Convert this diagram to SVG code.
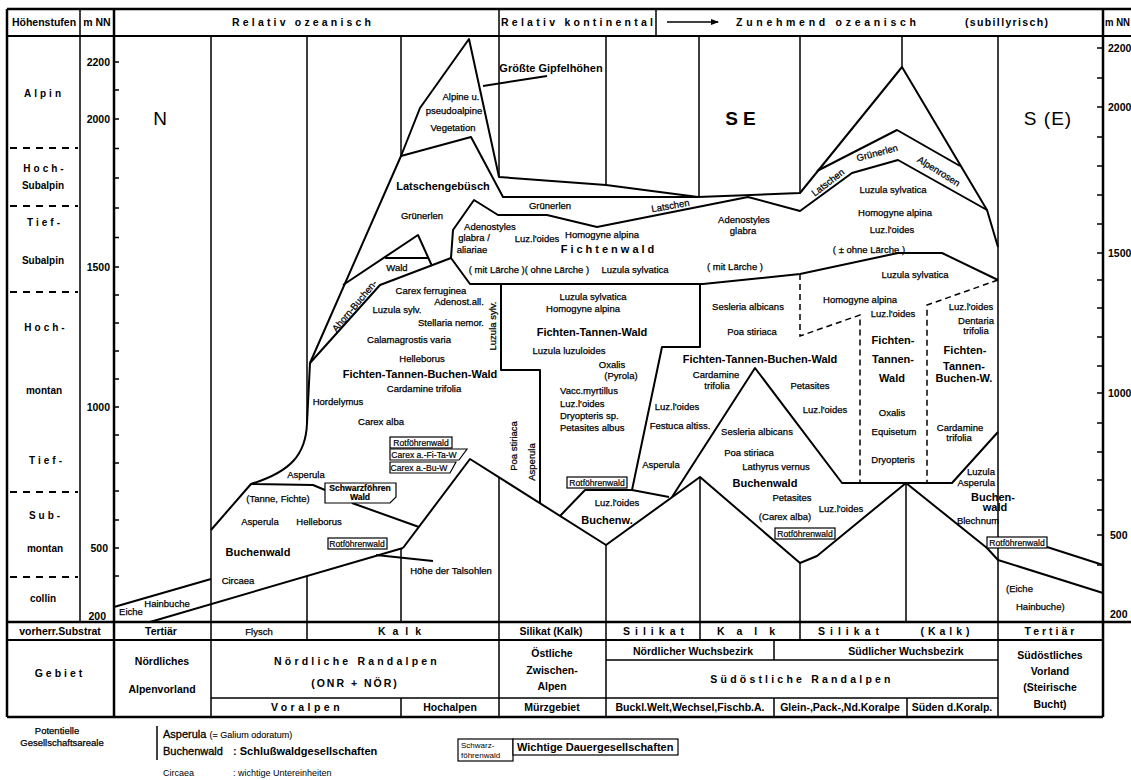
<svg xmlns="http://www.w3.org/2000/svg" width="1131" height="780" viewBox="0 0 1131 780">
<style>
text{font-family:"Liberation Sans",Arial,sans-serif;fill:#000}
.s{font-size:9.5px;text-anchor:middle;stroke:#000;stroke-width:0.25}
.sl{font-size:9.5px;stroke:#000;stroke-width:0.25}
.sb{font-size:11px;font-weight:bold;text-anchor:middle}
.bx{font-size:8.6px;text-anchor:middle;stroke:#000;stroke-width:0.2}
.hd{font-size:10.5px;font-weight:bold}
.ax{font-size:10.5px;font-weight:bold}
.lc{font-size:10px;font-weight:bold;text-anchor:middle}
.tb{font-size:10.5px;font-weight:bold;text-anchor:middle}
.big{font-size:19px;text-anchor:middle}
.ln{fill:none;stroke:#000;stroke-width:2;stroke-linejoin:round}
.th{fill:none;stroke:#000;stroke-width:1.5}
.fr{fill:none;stroke:#000;stroke-width:2.5}
.ds{fill:none;stroke:#000;stroke-width:1.5;stroke-dasharray:6 4}
.dl{fill:none;stroke:#000;stroke-width:2;stroke-dasharray:7 6}
.box{fill:#fff;stroke:#000;stroke-width:1.2}
.tk{stroke:#000;stroke-width:1.5}
</style>
<defs>
<marker id="ah" markerWidth="8" markerHeight="6" refX="7" refY="3" orient="auto" markerUnits="userSpaceOnUse">
<path d="M0,0 L8,3 L0,6 Z" fill="#000"/>
</marker>
</defs>
<rect width="1131" height="780" fill="#fff"/>

<g id="frame">
<path class="fr" d="M7,9 H1131 M7,9 V717 M114,9 V717 M1103,9 V717 M7,622 H1131 M7,717 H1103"/>
<path class="ln" d="M7,36 H1131 M7,640 H1103"/>
<path class="th" d="M80,9 V622 M499,9 V36 M656,9 V36"/>
</g>

<g id="header">
<text class="hd" x="44" y="26" text-anchor="middle" font-size="11">Höhenstufen</text>
<text class="hd" x="97" y="26" text-anchor="middle">m NN</text>
<text class="hd" x="232" y="26" textLength="139" lengthAdjust="spacing">Relativ ozeanisch</text>
<text class="hd" x="501" y="26" textLength="152" lengthAdjust="spacing">Relativ kontinental</text>
<path class="th" d="M667,22 H718" marker-end="url(#ah)"/>
<text class="hd" x="736" y="26" textLength="180" lengthAdjust="spacing">Zunehmend ozeanisch</text>
<text class="hd" x="965" y="26" textLength="83" lengthAdjust="spacing">(subillyrisch)</text>
<text class="hd" x="1105" y="26" font-size="10px" textLength="25" lengthAdjust="spacingAndGlyphs">m NN</text>
</g>

<g id="stufen">
<path class="dl" d="M10,148 H78 M10,206 H78 M10,292 H78 M10,492 H78 M10,577 H78"/>
<text class="lc" x="44" y="97" letter-spacing="3">Alpin</text>
<text class="lc" x="45" y="172" letter-spacing="3">Hoch-</text>
<text class="lc" x="43" y="189">Subalpin</text>
<text class="lc" x="45" y="226" letter-spacing="3">Tief-</text>
<text class="lc" x="43" y="264">Subalpin</text>
<text class="lc" x="46" y="331" letter-spacing="3">Hoch-</text>
<text class="lc" x="44" y="394">montan</text>
<text class="lc" x="47" y="464" letter-spacing="3">Tief-</text>
<text class="lc" x="46" y="519" letter-spacing="3">Sub-</text>
<text class="lc" x="45" y="552">montan</text>
<text class="lc" x="43" y="602">collin</text>
</g>

<g id="axis-left">
<path class="tk" d="M114,62 h5 M114,90 h5 M114,119 h5 M114,148.5 h5 M114,178 h5 M114,208 h5 M114,237.5 h5 M114,267 h5 M114,295 h5 M114,323 h5 M114,351 h5 M114,379 h5 M114,407 h5 M114,435 h5 M114,463 h5 M114,491 h5 M114,520 h5 M114,548 h5 M114,576 h5"/>
<text class="ax" x="110" y="66" text-anchor="end">2200</text>
<text class="ax" x="110" y="123" text-anchor="end">2000</text>
<text class="ax" x="110" y="271" text-anchor="end">1500</text>
<text class="ax" x="110" y="411" text-anchor="end">1000</text>
<text class="ax" x="108" y="552" text-anchor="end">500</text>
<text class="ax" x="106" y="620" text-anchor="end">200</text>
</g>

<g id="axis-right">
<path class="tk" d="M1097,48 h6 M1097,78 h6 M1097,107 h6 M1097,137 h6 M1097,166 h6 M1097,195 h6 M1097,224 h6 M1097,253 h6 M1097,280 h6 M1097,308 h6 M1097,337 h6 M1097,366 h6 M1097,393 h6 M1097,423 h6 M1097,452 h6 M1097,480 h6 M1097,510 h6 M1097,535 h6 M1097,565 h6"/>
<text class="ax" x="1108" y="52">2200</text>
<text class="ax" x="1108" y="111">2000</text>
<text class="ax" x="1108" y="257">1500</text>
<text class="ax" x="1108" y="397">1000</text>
<text class="ax" x="1110" y="539">500</text>
<text class="ax" x="1110" y="618">200</text>
</g>

<g id="connectors">
<path class="th" d="M211,36 V717 M307,36 V423 M401,36 V156 M499,36 V177 M606,36 V185 M699,36 V197 M800,36 V193 M902,36 V67 M998,36 V717"/>
<path class="th" d="M307,576 V640 M401,548 V622 M499,478 V717 M606,545 V717 M700,477 V640 M800,563 V640 M906,483 V622"/>
<path class="ln" d="M310,363 L401,156 L420,108 L469,39 L499,177 L606,185 L698,197 L800,193 L902,67 L987,210 L998,247"/>
<path class="ln" d="M401,156 L471,137 L503,197 L698,197"/>
<path class="ln" d="M310,363 L380,285 L451,258 L453,230 L474,200 L498,215 L547,215 L597,227 L748,197 L800,211 L852,173 L898,160 L987,210"/>
<path class="ln" d="M451,258 L470,284 L703,284 L800,274 L898,253 L942,253 L998,280"/>
<path class="ln" d="M817,171 L897,130 L960,166"/>
<path class="ln" d="M343,285 L418,235 L432,266 M385,258 H428"/>
<path class="ln" d="M483,86 L547,76"/>
<path class="ln" d="M310,363 L307,423 C306,455 290,472 251,484 L211,530 M251,484 L313,485 L325,490"/>
<path class="ln" d="M352,503 L419,527"/>
<path class="ln" d="M114,607 L211,579 M150,622 L403,548 M376,555 L433,561"/>
<path class="ln" d="M403,548 L470,459 L606,545 L700,477 L800,563 L817,556 L906,483 L987,548 L998,560 L1103,593 M1047,547 L1103,565"/>
<path class="ln" d="M501,285 V370 H540 V503"/>
<path class="ln" d="M700,284 V347 H662 L632,490"/>
<path class="ln" d="M560,516 L585,490 L632,490 L669,497"/>
<path class="ln" d="M672,497 L755,368 L842,483 L952,483 L998,432"/>
<path class="ds" d="M800,274 V336 L860,315 V483 M998,280 L927,305 V483"/>
</g>

<g id="boxes">
<polygon class="box" points="325,483 396,483 396,497 390,503 325,503"/>
<text class="bx" x="360" y="491" font-weight="bold">Schwarzföhren</text>
<text class="bx" x="360" y="500" font-weight="bold">Wald</text>
<rect class="box" x="390" y="437" width="62" height="11"/>
<text class="bx" x="421" y="446">Rotföhrenwald</text>
<polygon class="box" points="390,449 467,449 459,460 390,460"/>
<text class="bx" x="424" y="458">Carex a.-Fi-Ta-W</text>
<polygon class="box" points="390,462 456,462 450,473 390,473"/>
<text class="bx" x="419" y="471">Carex a.-Bu-W</text>
<rect class="box" x="328" y="538" width="59" height="11"/>
<text class="bx" x="357" y="547">Rotföhrenwald</text>
<rect class="box" x="567" y="477" width="60" height="11"/>
<text class="bx" x="597" y="486">Rotföhrenwald</text>
<rect class="box" x="775" y="528" width="60" height="11"/>
<text class="bx" x="805" y="537">Rotföhrenwald</text>
<rect class="box" x="987" y="537" width="60" height="11"/>
<text class="bx" x="1017" y="546">Rotföhrenwald</text>
</g>

<g id="regions">
<text class="big" x="160" y="125">N</text>
<text class="big" x="743" y="125" font-weight="bold" letter-spacing="5">SE</text>
<text class="big" x="1048" y="125" letter-spacing="1">S (E)</text>
</g>

<g id="alpine">
<text class="s" x="461" y="100">Alpine u.</text>
<text class="s" x="454" y="114">pseudoalpine</text>
<text class="s" x="453" y="131">Vegetation</text>
<text class="sb" x="551" y="72">Größte Gipfelhöhen</text>
<text class="sb" x="443" y="190">Latschengebüsch</text>
<text class="s" x="422" y="219">Grünerlen</text>
<text class="s" x="550" y="209">Grünerlen</text>
<text class="s" x="671" y="209" transform="rotate(-10 671 209)">Latschen</text>
<text class="s" x="830" y="185" transform="rotate(-38 830 185)">Latschen</text>
<text class="s" x="878" y="156" transform="rotate(-15 878 156)">Grünerlen</text>
<text class="s" x="937" y="174" transform="rotate(32 937 174)">Alpenrosen</text>
</g>

<g id="fichtenwald">
<text class="s" x="490" y="230">Adenostyles</text>
<text class="s" x="474" y="241">glabra /</text>
<text class="s" x="472" y="253">aliariae</text>
<text class="s" x="537" y="242">Luz.l'oides</text>
<text class="s" x="602" y="238">Homogyne alpina</text>
<text class="sb" x="609" y="253" letter-spacing="3">Fichtenwald</text>
<text class="s" x="529" y="273">( mit Lärche )( ohne Lärche )</text>
<text class="s" x="635" y="273">Luzula sylvatica</text>
<text class="s" x="744" y="223">Adenostyles</text>
<text class="s" x="743" y="234">glabra</text>
<text class="s" x="735" y="270">( mit Lärche )</text>
<text class="s" x="893" y="193">Luzula sylvatica</text>
<text class="s" x="895" y="216">Homogyne alpina</text>
<text class="s" x="892" y="233">Luz.l'oides</text>
<text class="s" x="869" y="253">( ± ohne Lärche )</text>
</g>

<g id="ftbw-left">
<text class="s" x="357" y="308" transform="rotate(-50 357 308)">Ahorn-Buchen-</text>
<text class="s" x="397" y="271">Wald</text>
<text class="s" x="431" y="294">Carex ferruginea</text>
<text class="s" x="459" y="305">Adenost.all.</text>
<text class="s" x="397" y="313">Luzula sylv.</text>
<text class="s" x="451" y="326">Stellaria nemor.</text>
<text class="s" x="409" y="343">Calamagrostis varia</text>
<text class="s" x="422" y="362">Helleborus</text>
<text class="sb" x="420" y="378">Fichten-Tannen-Buchen-Wald</text>
<text class="s" x="424" y="392">Cardamine trifolia</text>
<text class="s" x="338" y="405">Hordelymus</text>
<text class="s" x="381" y="425">Carex alba</text>
<text class="s" x="496" y="326" transform="rotate(-90 496 326)">Luzula sylv.</text>
</g>

<g id="ftw-middle">
<text class="s" x="593" y="300">Luzula sylvatica</text>
<text class="s" x="583" y="312">Homogyne alpina</text>
<text class="sb" x="592" y="336">Fichten-Tannen-Wald</text>
<text class="s" x="569" y="354">Luzula luzuloides</text>
<text class="s" x="612" y="368">Oxalis</text>
<text class="s" x="621" y="379">(Pyrola)</text>
<text class="sl" x="560" y="394">Vacc.myrtillus</text>
<text class="sl" x="560" y="407">Luz.l'oides</text>
<text class="sl" x="560" y="419">Dryopteris sp.</text>
<text class="sl" x="560" y="431">Petasites albus</text>
<text class="s" x="517" y="446" transform="rotate(-90 517 446)">Poa stiriaca</text>
<text class="s" x="535" y="462" transform="rotate(-90 535 462)">Asperula</text>
<text class="s" x="617" y="506">Luz.l'oides</text>
<text class="sb" x="607" y="524">Buchenw.</text>
</g>

<g id="se-middle">
<text class="s" x="748" y="310">Sesleria albicans</text>
<text class="s" x="752" y="335">Poa stiriaca</text>
<text class="sb" x="760" y="363">Fichten-Tannen-Buchen-Wald</text>
<text class="s" x="716" y="378">Cardamine</text>
<text class="s" x="717" y="389">trifolia</text>
<text class="s" x="677" y="410">Luz.l'oides</text>
<text class="s" x="680" y="429">Festuca altiss.</text>
<text class="s" x="661" y="468">Asperula</text>
<text class="s" x="810" y="389">Petasites</text>
<text class="s" x="825" y="413">Luz.l'oides</text>
<text class="s" x="757" y="435">Sesleria albicans</text>
<text class="s" x="749" y="456">Poa stiriaca</text>
<text class="s" x="776" y="470">Lathyrus vernus</text>
<text class="sb" x="765" y="487">Buchenwald</text>
<text class="s" x="792" y="501">Petasites</text>
<text class="s" x="785" y="520">(Carex alba)</text>
<text class="s" x="841" y="512">Luz.l'oides</text>
<text class="s" x="860" y="303">Homogyne alpina</text>
<text class="s" x="915" y="278">Luzula sylvatica</text>
</g>

<g id="se-right">
<text class="s" x="893" y="317">Luz.l'oides</text>
<text class="sb" x="893" y="344">Fichten-</text>
<text class="sb" x="893" y="363">Tannen-</text>
<text class="sb" x="892" y="382">Wald</text>
<text class="s" x="892" y="416">Oxalis</text>
<text class="s" x="894" y="435">Equisetum</text>
<text class="s" x="893" y="463">Dryopteris</text>
<text class="s" x="971" y="310">Luz.l'oides</text>
<text class="s" x="976" y="324">Dentaria</text>
<text class="s" x="976" y="334">trifolia</text>
<text class="sb" x="965" y="354">Fichten-</text>
<text class="sb" x="964" y="370">Tannen-</text>
<text class="sb" x="964" y="382">Buchen-W.</text>
<text class="s" x="960" y="431">Cardamine</text>
<text class="s" x="959" y="441">trifolia</text>
<text class="sl" x="995" y="475" text-anchor="end">Luzula</text>
<text class="sl" x="995" y="486" text-anchor="end">Asperula</text>
<text class="sb" x="993" y="501" text-anchor="end">Buchen-</text>
<text class="sb" x="995" y="511" text-anchor="end">wald</text>
<text class="s" x="978" y="524" font-size="8px">Blechnum</text>
<text class="sl" x="1006" y="592">(Eiche</text>
<text class="sl" x="1016" y="610">Hainbuche)</text>
</g>

<g id="lower-left">
<text class="s" x="306" y="478">Asperula</text>
<text class="s" x="278" y="502">(Tanne, Fichte)</text>
<text class="s" x="260" y="525">Asperula</text>
<text class="s" x="319" y="525">Helleborus</text>
<text class="sb" x="258" y="556">Buchenwald</text>
<text class="s" x="238" y="584">Circaea</text>
<text class="s" x="167" y="607">Hainbuche</text>
<text class="s" x="131" y="615">Eiche</text>
<text class="s" x="451" y="574">Höhe der Talsohlen</text>
</g>

<g id="table">
<path class="th" d="M606,660 H998 M211,698 H998 M401,698 V717 M774,640 V660 M774,698 V717 M907,698 V717"/>
<text class="tb" x="60" y="635">vorherr.Substrat</text>
<text class="tb" x="161" y="635">Tertiär</text>
<text class="s" x="259" y="635">Flysch</text>
<text class="tb" x="403" y="635" letter-spacing="7">Kalk</text>
<text class="tb" x="551" y="635">Silikat (Kalk)</text>
<text class="tb" x="656" y="635" letter-spacing="5">Silikat</text>
<text class="tb" x="752" y="635" letter-spacing="12">Kalk</text>
<text class="tb" x="851" y="635" letter-spacing="5">Silikat</text>
<text class="tb" x="947" y="635" letter-spacing="4">(Kalk)</text>
<text class="tb" x="1051" y="635" letter-spacing="3">Tertiär</text>
<text class="tb" x="60" y="677" letter-spacing="3">Gebiet</text>
<text class="tb" x="162" y="665">Nördliches</text>
<text class="tb" x="162" y="693">Alpenvorland</text>
<text class="tb" x="357" y="665" letter-spacing="3.2">Nördliche Randalpen</text>
<text class="tb" x="355" y="687" letter-spacing="2">(ONR + NÖR)</text>
<text class="tb" x="307" y="711" letter-spacing="3.5">Voralpen</text>
<text class="tb" x="450" y="711">Hochalpen</text>
<text class="tb" x="552" y="657">Östliche</text>
<text class="tb" x="552" y="674">Zwischen-</text>
<text class="tb" x="552" y="690">Alpen</text>
<text class="tb" x="552" y="711">Mürzgebiet</text>
<text class="tb" x="693" y="655">Nördlicher  Wuchsbezirk</text>
<text class="tb" x="906" y="655">Südlicher  Wuchsbezirk</text>
<text class="tb" x="802" y="683" letter-spacing="3.2">Südöstliche Randalpen</text>
<text class="tb" x="690" y="711">Buckl.Welt,Wechsel,Fischb.A.</text>
<text class="tb" x="840" y="711">Glein-,Pack-,Nd.Koralpe</text>
<text class="tb" x="952" y="711">Süden d.Koralp.</text>
<text class="tb" x="1050" y="659">Südöstliches</text>
<text class="tb" x="1050" y="675">Vorland</text>
<text class="tb" x="1050" y="691">(Steirische</text>
<text class="tb" x="1050" y="708">Bucht)</text>
</g>

<g id="legend">
<text class="s" x="57" y="734" font-size="8.5px" stroke-width="0.1">Potentielle</text>
<text class="s" x="62" y="746" font-size="8.5px" stroke-width="0.1">Gesellschaftsareale</text>
<path class="th" d="M157,726 V760"/>
<text x="163" y="738" font-size="11px" stroke="#000" stroke-width="0.3">Asperula <tspan font-size="9px" stroke-width="0.1">(= Galium odoratum)</tspan></text>
<text x="163" y="755" font-size="11px" stroke="#000" stroke-width="0.3">Buchenwald</text>
<text x="233" y="755" font-size="11px" font-weight="bold">: Schlußwaldgesellschaften</text>
<text x="163" y="776" font-size="9px">Circaea</text>
<text x="233" y="776" font-size="9px">: wichtige Untereinheiten</text>
<rect class="box" x="458" y="739" width="55" height="22"/>
<text x="461" y="748" font-size="8px">Schwarz-</text>
<text x="461" y="758" font-size="8px">föhrenwald</text>
<rect class="box" x="513" y="739" width="165" height="16"/>
<text x="517" y="751" font-size="11px" font-weight="bold">Wichtige Dauergesellschaften</text>
</g>
</svg>
